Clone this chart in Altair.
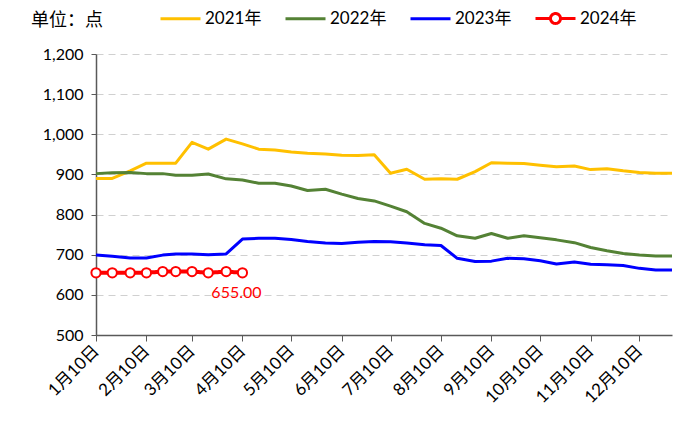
import altair as alt
import pandas as pd
import datetime as dt

# ---------------- data ----------------
months = list(range(1, 13))
month_end = [31, 28, 31, 30, 31, 30, 31, 31, 30, 31, 30, 30]
tick_labels = [f"{m}月10日" for m in months]
series_names = ["2021年", "2022年", "2023年", "2024年"]
series_colors = ["#FFC000", "#548235", "#0000FF", "#FF0000"]
unit_text = "单位：点"

v2021 = [890, 890, 909, 928, 928, 928, 980, 963, 988, 976, 963, 961,
         956, 953, 951, 948, 947, 949, 903, 913, 888, 889, 888, 907,
         929, 928, 927, 923, 919, 921, 912, 914, 909, 905, 903, 903]
v2022 = [902, 904, 905, 902, 902, 898, 898, 901, 889, 886, 878, 878,
         871, 860, 863, 851, 840, 834, 821, 807, 778, 766, 747, 741,
         753, 741, 747, 742, 737, 730, 718, 710, 703, 699, 697, 697]
v2023 = [699, 696, 692, 692, 699, 702, 702, 700, 702, 739, 741, 741,
         738, 733, 729, 728, 731, 733, 732, 729, 725, 723, 691, 683,
         684, 691, 690, 685, 677, 682, 676, 675, 673, 666, 662, 662]
v2024 = [655, 655, 655, 655, 658, 658, 658, 655, 658, 655]
label_2024 = "655.00"


def doy(m, d):
    return dt.date(2023, m, d).timetuple().tm_yday


period_days = [doy(m, d) for m in months for d in (10, 20, month_end[m - 1])]
tick_days = [doy(m, 10) for m in months]

rows = []
for name, vals in zip(series_names[:3], [v2021, v2022, v2023]):
    for x, v in zip(period_days, vals):
        rows.append({"day": x, "value": v, "series": name})
df_main = pd.DataFrame(rows)
df_2024 = pd.DataFrame({"day": period_days[:len(v2024)], "value": v2024,
                        "series": "2024年"})
df_lab = df_2024.tail(1).assign(label=label_2024)

FONT = "Lato, 'Noto Sans CJK SC', sans-serif"
label_js = "[" + ",".join("'" + t + "'" for t in tick_labels) + "]"

x_enc = alt.X(
    "day:Q",
    scale=alt.Scale(domain=[tick_days[0], doy(12, 30)], nice=False, zero=False),
    axis=alt.Axis(
        values=tick_days,
        labelExpr=label_js + "[indexof(" + str(tick_days) + ", datum.value)]",
        labelAngle=-45, labelAlign="right", labelBaseline="middle",
        labelOverlap=False, labelFontSize=17, labelColor="#000000",
        labelFont=FONT, labelPadding=7, tickSize=6, tickColor="#595959",
        domainColor="#595959", domainWidth=1.5, grid=False, title=None,
    ),
)
y_enc_scale = alt.Scale(domain=[500, 1200], nice=False, zero=False)
y_axis = alt.Axis(
    values=list(range(500, 1201, 100)), format=",.0f", labelFontSize=16,
    labelColor="#000000", labelFont=FONT, labelPadding=8, tickSize=5,
    tickColor="#595959", domainColor="#595959", domainWidth=1.5,
    gridColor="#D0D0D0", gridDash=[7, 5], gridWidth=1, title=None,
    labelOverlap=False,
)

lines = alt.Chart(df_main).mark_line(strokeJoin="round").encode(
    x=x_enc,
    y=alt.Y("value:Q", scale=y_enc_scale, axis=y_axis),
    color=alt.Color(
        "series:N",
        scale=alt.Scale(domain=series_names[:3], range=series_colors[:3]),
        legend=alt.Legend(
            title=unit_text, titleOrient="left", titleFontSize=18,
            titleFontWeight="normal", titleColor="#000000", titleFont=FONT,
            titlePadding=56, titleBaseline="top", titleAlign="left",
            orient="none", direction="horizontal", columns=3,
            legendX=-65, legendY=-57, symbolType="stroke", symbolSize=1600,
            symbolStrokeWidth=4, labelFontSize=17, labelFont=FONT,
            labelColor="#000000", labelOffset=3, columnPadding=17,
        ),
    ),
    strokeWidth=alt.StrokeWidth(
        "series:N",
        scale=alt.Scale(domain=series_names[:3], range=[3, 3, 3.8]),
        legend=None,
    ),
)

red_line = alt.Chart(df_2024).mark_line(color="#FF0000", strokeWidth=4).encode(
    x="day:Q",
    y="value:Q",
    strokeDash=alt.StrokeDash(
        "series:N",
        scale=alt.Scale(domain=["2024年"], range=[[1, 0]]),
        legend=alt.Legend(
            title=None, orient="none", legendX=438, legendY=-57,
            symbolType="M-1,0L-0.27,0M0.27,0L1,0M-0.25,0A0.25,0.25,0,1,1,0.25,0A0.25,0.25,0,1,1,-0.25,0",
            symbolSize=1600, symbolStrokeWidth=3, symbolStrokeColor="#FF0000",
            symbolFillColor="#FFFFFF", labelFontSize=17, labelFont=FONT,
            labelColor="#000000", labelOffset=3,
        ),
    ),
)

red_pts = alt.Chart(df_2024).mark_point(
    shape="circle", filled=True, fill="#FFFFFF", stroke="#FF0000",
    strokeWidth=2, size=85, opacity=1,
).encode(x="day:Q", y="value:Q")

red_text = alt.Chart(df_lab).mark_text(
    color="#FF0000", fontSize=16, font=FONT, dx=-6, dy=20,
).encode(x="day:Q", y="value:Q", text="label:N")

chart = alt.layer(lines, red_line, red_pts, red_text).properties(
    width=576, height=281,
    autosize=alt.AutoSizeParams(type="none"),
    padding={"left": 88, "top": 46, "right": 20, "bottom": 100},
).configure_view(stroke=None)

chart.save("out.html", embed_options={"renderer": "svg", "actions": False})
